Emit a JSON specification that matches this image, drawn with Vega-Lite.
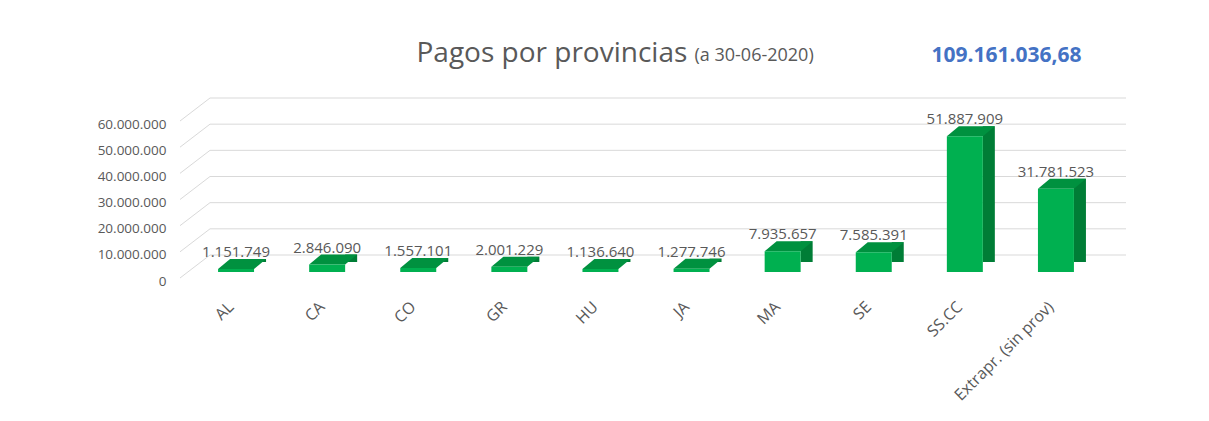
{
  "$schema": "https://vega.github.io/schema/vega-lite/v6.json",
  "width": 916,
  "height": 157,
  "autosize": {"type": "none"},
  "padding": {"left": 188, "top": 115, "right": 105, "bottom": 149},
  "background": "white",
  "config": {
    "view": {"stroke": null},
    "font": "Open Sans",
    "locale": {"number": {"decimal": ",", "thousands": ".", "grouping": [3], "currency": ["", " €"]}}
  },
  "datasets": {
    "pagos": [
      {"prov": "AL", "v": 1151749},
      {"prov": "CA", "v": 2846090},
      {"prov": "CO", "v": 1557101},
      {"prov": "GR", "v": 2001229},
      {"prov": "HU", "v": 1136640},
      {"prov": "JA", "v": 1277746},
      {"prov": "MA", "v": 7935657},
      {"prov": "SE", "v": 7585391},
      {"prov": "SS.CC", "v": 51887909},
      {"prov": "Extrapr. (sin prov)", "v": 31781523}
    ],
    "grid": [
      {"g": 0}, {"g": 10000000}, {"g": 20000000}, {"g": 30000000},
      {"g": 40000000}, {"g": 50000000}, {"g": 60000000}
    ]
  },
  "layer": [
    {
      "data": {"name": "grid"},
      "layer": [
        {
          "mark": {"type": "rule", "color": "#D9D9D9", "strokeWidth": 1, "xOffset": 22, "x2Offset": 22, "yOffset": -17},
          "encoding": {
            "x": {"datum": 0, "type": "quantitative", "scale": {"domain": [0, 1]},
              "axis": {"orient": "top", "labels": false, "ticks": false, "domain": false, "grid": false,
                "title": "109.161.036,68", "titleX": 818, "titleY": -54, "titleAlign": "center",
                "titleBaseline": "alphabetic", "titleFontSize": 21, "titleFontWeight": "bold",
                "titleColor": "#4472C4", "titleFont": "Open Sans"}},
            "x2": {"datum": 1},
            "y": {"field": "g", "type": "quantitative", "scale": {"domain": [0, 60000000], "nice": false},
              "axis": {"values": [0, 10000000, 20000000, 30000000, 40000000, 50000000, 60000000],
                "tickCount": 7, "format": ",d", "labelFontSize": 13.5, "labelColor": "#595959", "labelPadding": 22,
                "labelOffset": 9, "labelOverlap": false, "ticks": false, "domain": false, "grid": false,
                "title": "(a 30-06-2020)", "titleX": 506, "titleY": -55, "titleAngle": 0,
                "titleAlign": "left", "titleBaseline": "alphabetic", "titleFontSize": 18,
                "titleFontWeight": "normal", "titleColor": "#595959"}}
          }
        },
        {
          "mark": {"type": "rule", "color": "#D9D9D9", "strokeWidth": 1, "xOffset": -8, "x2Offset": 22, "yOffset": 6, "y2Offset": -17},
          "encoding": {
            "x": {"datum": 0, "type": "quantitative"},
            "x2": {"datum": 0},
            "y": {"field": "g", "type": "quantitative"},
            "y2": {"field": "g"}
          }
        }
      ]
    },
    {
      "data": {"name": "pagos"},
      "layer": [
        {
          "mark": {"type": "bar", "color": "#007D36", "width": 12, "xOffset": 24, "yOffset": -10},
          "encoding": {
            "x": {"field": "prov", "type": "nominal", "sort": null,
              "scale": {"paddingInner": 0.605, "paddingOuter": 0.33}},
            "y": {"field": "v", "type": "quantitative", "scale": {"domain": [0, 60000000], "nice": false}}
          }
        },
        {
          "mark": {"type": "point", "shape": "M-1,0.8333L1,-0.8333L1,0.8333Z", "size": 144, "filled": true,
            "color": "white", "opacity": 1, "strokeWidth": 0, "xOffset": 24, "yOffset": -5},
          "encoding": {
            "x": {"field": "prov", "type": "nominal", "sort": null},
            "y": {"datum": 0, "type": "quantitative"}
          }
        },
        {
          "mark": {"type": "point", "shape": "M-1,0.2083L0.5,0.2083L1,-0.2083L-0.5,-0.2083Z", "size": 2304, "filled": true,
            "color": "#00913F", "opacity": 1, "strokeWidth": 0, "xOffset": 6, "yOffset": -5},
          "encoding": {
            "x": {"field": "prov", "type": "nominal", "sort": null},
            "y": {"field": "v", "type": "quantitative"}
          }
        },
        {
          "mark": {"type": "bar", "color": "#00B050"},
          "encoding": {
            "x": {"field": "prov", "type": "nominal", "sort": null,
              "axis": {"labelAngle": -45, "labelAlign": "right", "labelBaseline": "middle",
                "labelFontSize": 16, "labelColor": "#595959", "labelPadding": 32, "labelOffset": -5,
                "ticks": false, "domain": false, "grid": false,
                "title": "Pagos por provincias", "titleX": 228, "titleY": -211, "titleAngle": 0,
                "titleAlign": "left", "titleBaseline": "alphabetic", "titleFontSize": 28,
                "titleFontWeight": "normal", "titleColor": "#595959"}},
            "y": {"field": "v", "type": "quantitative",
              "axis": {"values": [0, 10000000, 20000000, 30000000, 40000000, 50000000, 60000000],
                "tickCount": 7, "format": ",d", "labelFontSize": 13.5, "labelColor": "#595959", "labelPadding": 22,
                "labelOffset": 9, "labelOverlap": false, "ticks": false, "domain": false, "grid": false,
                "title": "(a 30-06-2020)", "titleX": 506, "titleY": -55, "titleAngle": 0,
                "titleAlign": "left", "titleBaseline": "alphabetic", "titleFontSize": 18,
                "titleFontWeight": "normal", "titleColor": "#595959"}}
          }
        },
        {
          "mark": {"type": "text", "baseline": "alphabetic", "dy": -12, "fontSize": 15, "color": "#595959"},
          "encoding": {
            "x": {"field": "prov", "type": "nominal", "sort": null},
            "y": {"field": "v", "type": "quantitative"},
            "text": {"field": "v", "type": "quantitative", "format": ",d"}
          }
        }
      ]
    }
  ],
  "resolve": {"scale": {"x": "independent"}}
}
